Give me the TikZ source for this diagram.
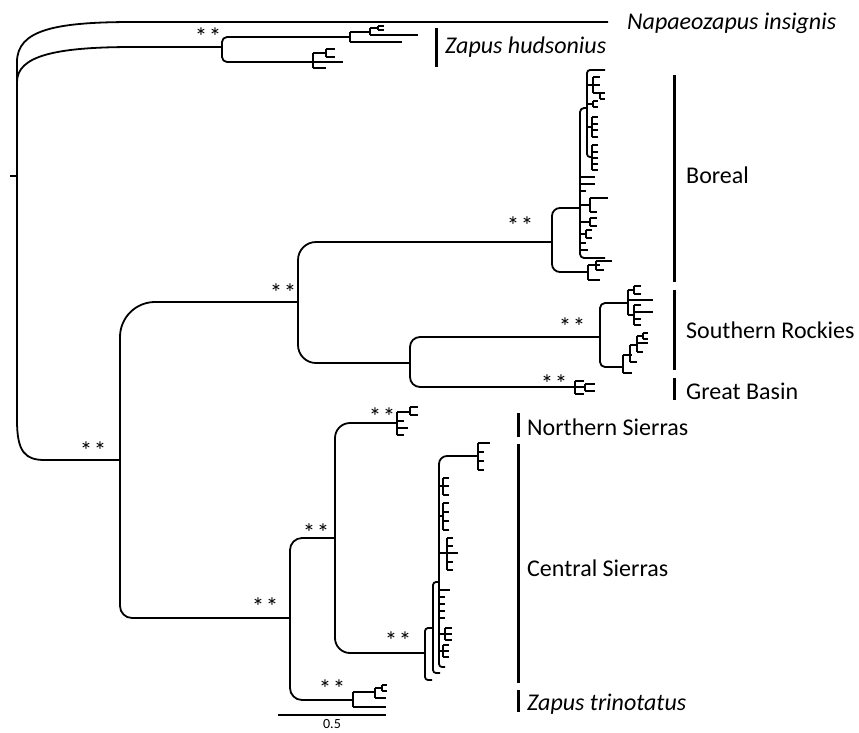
\documentclass[tikz,border=0pt]{standalone}
\usepackage{fontspec}
\setmainfont{Carlito}
\tikzset{
  br/.style={line width=1.8pt, line join=round},
  cladebar/.style={line width=3pt},
  lab/.style={anchor=base west, inner sep=0pt, font=\fontsize{24}{28}\selectfont},
  ilab/.style={lab, font=\fontsize{24}{28}\selectfont\itshape},
  stars/.style={anchor=base, inner sep=0pt, font=\fontsize{25}{27}\selectfont},
}
% comb: x, ytop, ybot, tip x, list of tick y
\newcommand\tcomb[5]{%
  \draw[br] (#1,#2) -- (#1,#3);
  \foreach \yy in {#5} {\draw[br] (#1,\yy) -- (#4,\yy);}%
}
\newcommand\twostars{*\kern1.5pt*}
\begin{document}
\begin{tikzpicture}[x=1pt,y=-1pt]
\useasboundingbox (0,0) rectangle (859,732);

% ---- internal node coordinates (x of vertical, y of entering branch)
\coordinate (nR)   at (17,176);
\coordinate (nH)   at (222,47);
\coordinate (nL)   at (120,460);
\coordinate (nBR)  at (298,302);
\coordinate (nA)   at (552,242);
\coordinate (nB)   at (580,208);
\coordinate (nC)   at (587,108);
\coordinate (nA2)  at (588,272);
\coordinate (nSR0) at (410,363);
\coordinate (nSR)  at (600,337);
\coordinate (nSRu) at (628,303);
\coordinate (nSRl) at (623,367);
\coordinate (nGB)  at (575,387);
\coordinate (nD)   at (290,618);
\coordinate (nE)   at (335,538);
\coordinate (nNS)  at (397,423);
\coordinate (nF)   at (425,653);
\coordinate (nG)   at (433,628);
\coordinate (nHH)  at (439,582);
\coordinate (nI)   at (478,456);
\coordinate (nT)   at (353,700);
\coordinate (napEnd) at (608,22);

% ---- root
\draw[br] (10,176) -- (nR);
\draw[br] (nR) -- (17,62) .. controls (17,30) and (55,22) .. (133,22) -- (napEnd);
\draw[br] (17,82) .. controls (17,56) and (55,47) .. (133,47) -- (nH);
\draw[br] (nR) -- (17,420) .. controls (17,452) and (25,460) .. (45,460) -- (nL);

% ---- Zapus hudsonius
\draw[br,rounded corners=5] (nH) |- (350,37);
\draw[br,rounded corners=5] (nH) |- (313,62);
\tcomb{350}{32}{42}{350}{32,42}
\draw[br] (350,32) -- (370,32);
\draw[br] (350,42) -- (402,42);
\tcomb{370}{28}{35}{370}{28,35}
\draw[br] (370,35) -- (418,35);
\tcomb{378}{26}{30}{384}{26,30}
\draw[br] (370,28) -- (378,28);
\tcomb{313}{53}{68}{326}{53,62,68}
\draw[br] (313,62) -- (343,62);
\tcomb{326}{49}{57}{335}{49,57}

% ---- Boreal + Rockies
\draw[br,rounded corners=35] (nL) |- (nBR);
\draw[br,rounded corners=12] (nL) |- (nD);
\draw[br,rounded corners=18] (nBR) |- (nA);
\draw[br,rounded corners=18] (nBR) |- (nSR0);

% Boreal
\draw[br,rounded corners=8] (nA) |- (nB);
\draw[br,rounded corners=8] (nA) |- (nA2);
\draw[br,rounded corners=4] (nC) -- (580,108) -- (580,258) -- (605,258);
\draw[br,rounded corners=3] (605,70) -- (587,70) -- (587,157) -- (592,157);
\draw[br] (587,85) -- (593,85);
\tcomb{593}{77}{93}{600}{77,85,93}
\tcomb{600}{93}{99}{605}{93,99}
\draw[br] (587,104) -- (593,104);
\tcomb{593}{101}{107}{598}{101,107}
\draw[br] (587,127) -- (592,127);
\tcomb{592}{117}{137}{598}{117,124,130,137}
\tcomb{592}{145}{170}{598}{145,152,158,164,170}
\foreach \yy/\xx in {177/595,184/595,191/586,243/586,250/588} {\draw[br] (580,\yy) -- (\xx,\yy);}
\draw[br] (580,205) -- (590,205);
\tcomb{590}{198}{212}{597}{198,212}
\draw[br] (590,198) -- (608,198);
\draw[br] (580,222) -- (590,222);
\tcomb{590}{218}{226}{597}{218,226}
\draw[br] (580,234) -- (586,234);
\tcomb{586}{230}{238}{592}{230,238}
\tcomb{588}{265}{280}{600}{265,280}
\tcomb{596}{261}{270}{604}{261,270}
\draw[br] (596,261) -- (612,261);

% Southern Rockies
\draw[br,rounded corners=10] (nSR0) |- (nSR);
\draw[br,rounded corners=10] (nSR0) |- (nGB);
\draw[br,rounded corners=5] (nSR) |- (nSRu);
\draw[br,rounded corners=5] (nSR) |- (nSRl);
\tcomb{628}{290}{315}{634}{290,300,315}
\draw[br] (628,300) -- (653,300);
\tcomb{634}{286}{294}{641}{286,294}
\tcomb{634}{305}{325}{641}{305,312,319,325}
\draw[br] (634,312) -- (653,312);
\tcomb{623}{355}{373}{632}{355,373}
\tcomb{630}{345}{362}{637}{345,362}
\tcomb{637}{336}{352}{643}{336,343,352}
\draw[br] (637,343) -- (648,343);
\tcomb{643}{333}{339}{648}{333,339}

% Great Basin
\tcomb{575}{381}{394}{584}{381,387,394}
\tcomb{585}{384}{391}{595}{384,391}

% ---- Sierras + trinotatus
\draw[br,rounded corners=12] (nD) |- (nE);
\draw[br,rounded corners=12] (nD) |- (nT);
\draw[br,rounded corners=15] (nE) |- (nNS);
\draw[br,rounded corners=15] (nE) |- (nF);

% Northern Sierras
\tcomb{397}{412}{435}{404}{412,421,428,435}
\draw[br] (397,412) -- (410,412);
\draw[br] (397,428) -- (408,428);
\tcomb{410}{407}{415}{418}{407,415}

% Central Sierras
\draw[br,rounded corners=3] (nF) |- (nG);
\draw[br,rounded corners=3] (nF) |- (432,680);
\draw[br,rounded corners=3] (nG) |- (nHH);
\draw[br,rounded corners=3] (nG) |- (440,673);
\draw[br,rounded corners=8] (nHH) |- (nI);
\draw[br,rounded corners=3] (nHH) |- (445,667);
\tcomb{478}{443}{470}{484}{443,452,461,470}
\draw[br] (478,443) -- (490,443);
\draw[br] (439,486) -- (443,486);
\tcomb{443}{478}{495}{449}{478,486,495}
\draw[br] (439,516) -- (443,516);
\tcomb{443}{503}{530}{449}{503,512,521,530}
\draw[br] (439,553) -- (447,553);
\tcomb{447}{538}{570}{453}{538,546,553,562,570}
\draw[br] (447,553) -- (458,553);
\foreach \yy/\xx in {590/450,597/445,604/445,611/445,618/445} {\draw[br] (439,\yy) -- (\xx,\yy);}
\draw[br] (439,634) -- (445,634);
\tcomb{445}{628}{640}{452}{628,634,640}
\draw[br] (439,651) -- (443,651);
\tcomb{443}{645}{657}{449}{645,651,657}

% Zapus trinotatus
\tcomb{353}{692}{707}{375}{692,707}
\draw[br] (353,707) -- (386,707);
\tcomb{375}{688}{698}{382}{688,698}
\draw[br] (375,698) -- (386,698);
\tcomb{382}{685}{691}{387}{685,691}

% ---- scale bar
\draw[br] (278,715) -- (386,715);
\node[inner sep=0pt, font=\fontsize{14}{16}\selectfont] (scl) at (332,724) {0.5};

% ---- support stars
\node[stars] (s1) at (208,45.5) {\twostars};
\node[stars] (s2) at (520,234.5) {\twostars};
\node[stars] (s3) at (283,301.5) {\twostars};
\node[stars] (s4) at (93,459.5) {\twostars};
\node[stars] (s5) at (572,335.5) {\twostars};
\node[stars] (s6) at (554,392.5) {\twostars};
\node[stars] (s7) at (382,425.5) {\twostars};
\node[stars] (s8) at (316,541.5) {\twostars};
\node[stars] (s9) at (265,615.5) {\twostars};
\node[stars] (s10) at (398,649.5) {\twostars};
\node[stars] (s11) at (332,697.5) {\twostars};

% ---- clade bars
\draw[cladebar] (436,28) -- (436,67);
\draw[cladebar] (674,75) -- (674,282);
\draw[cladebar] (674,290) -- (674,370);
\draw[cladebar] (674,378) -- (674,400);
\draw[cladebar] (518,413) -- (518,437);
\draw[cladebar] (518,444) -- (518,683);
\draw[cladebar] (518,690) -- (518,712);

% ---- labels
\node[ilab] (lNap) at (627,29) {Napaeozapus insignis};
\node[ilab] (lHud) at (445,53) {Zapus hudsonius};
\node[lab] (lBor) at (686,183) {Boreal};
\node[lab] (lSR) at (686,338) {Southern Rockies};
\node[lab] (lGB) at (686,399) {Great Basin};
\node[lab] (lNS) at (527,435) {Northern Sierras};
\node[lab] (lCS) at (527,576) {Central Sierras};
\node[ilab] (lTri) at (527,710) {Zapus trinotatus};
\end{tikzpicture}
\end{document}
